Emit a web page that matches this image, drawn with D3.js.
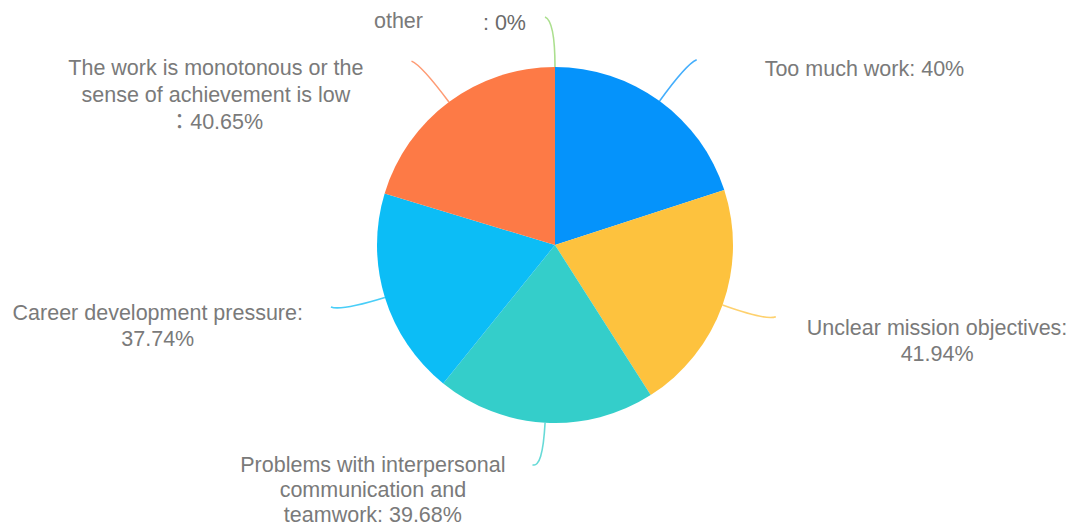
<!DOCTYPE html>
<html>
<head>
<meta charset="utf-8">
<script src="https://cdn.jsdelivr.net/npm/d3@7/dist/d3.min.js"></script>
<style>
  html, body { margin: 0; padding: 0; background: #ffffff; }
  svg { display: block; }
  text { font-family: "Liberation Sans", Arial, "Noto Sans CJK JP", "Noto Sans", sans-serif; }
</style>
</head>
<body>
<svg id="chart" width="1073" height="529"></svg>
<script>
// Reasons for work stress (share of respondents, %)
const categories = [
  "Too much work",
  "Unclear mission objectives",
  "Problems with interpersonal communication and teamwork",
  "Career development pressure",
  "The work is monotonous or the sense of achievement is low",
  "other"
];
const values = [40, 41.94, 39.68, 37.74, 40.65, 0];
const valueLabels = ["40%", "41.94%", "39.68%", "37.74%", "40.65%", "0%"];
// Label text broken into display lines
const labelLines = [
  ["Too much work: 40%"],
  ["Unclear mission objectives:", "41.94%"],
  ["Problems with interpersonal", "communication and", "teamwork: 39.68%"],
  ["Career development pressure:", "37.74%"],
  ["The work is monotonous or the", "sense of achievement is low", "\uff1a40.65%"],
  ["other", ": 0%"]
];
const colors = ["#0593fb", "#fdc23e", "#34ceca", "#0cbdf6", "#fd7a46", "#8fd468"];

const W = 1073, H = 529;
const cx = 555, cy = 245, R = 178;
const lineLen = 46, lineLen2 = 10;
// label gap from the line end, vertical offset of the first text line, line spacing
const labelGap = [68, 31, 27, 28, 48, 19];
const labelDy = [9, 11, 0, 6, 7, 6];
const labelLeading = [26.5, 26.5, 25.3, 26.5, 27, 26.5];
const fontSize = 21.5;

const svg = d3.select("#chart");
const g = svg.append("g").attr("transform", `translate(${cx},${cy})`);

const data = categories.map((c, i) => ({ name: c, value: values[i], i }));
const pie = d3.pie().value(d => d.value).sort(null);
const arcs = pie(data);
const arc = d3.arc().innerRadius(0).outerRadius(R);

g.selectAll("path.slice")
  .data(arcs)
  .join("path")
  .attr("class", "slice")
  .attr("d", arc)
  .attr("fill", d => colors[d.data.i]);

// Leader lines: radial segment then a short horizontal tail, smoothed
function leader(d) {
  const a = (d.startAngle + d.endAngle) / 2;
  const sx = Math.sin(a), sy = -Math.cos(a);
  const p1 = [sx * R, sy * R];
  const p2 = [sx * (R + lineLen), sy * (R + lineLen)];
  const side = sx > 0.001 ? 1 : -1;
  const p3 = [p2[0] + side * lineLen2, p2[1]];
  return { p1, p2, p3, side };
}

arcs.forEach(d => {
  const L = leader(d);
  const i = d.data.i;
  g.append("path")
    .attr("d", `M${L.p1[0]},${L.p1[1]} Q${L.p2[0]},${L.p2[1]} ${L.p3[0]},${L.p3[1] - 4}`)
    .attr("fill", "none")
    .attr("stroke", colors[i])
    .attr("stroke-opacity", 0.75)
    .attr("stroke-width", 1.6);

  const ex = L.p3[0], ey = L.p3[1] - 4;
  const lines = labelLines[i];

  if (i === 5) {
    // "other" label: name and value set apart on one row
    const t = g.append("text")
      .attr("x", ex - labelGap[i])
      .attr("y", ey + labelDy[i])
      .attr("text-anchor", "end")
      .attr("dominant-baseline", "central")
      .attr("font-size", fontSize)
      .attr("fill", "#7a7a7a");
    t.append("tspan").attr("dy", -2).text(lines[0]);
    t.append("tspan").attr("dx", 60).attr("dy", 2).attr("fill", "#6a6a6a").text(lines[1]);
    return;
  }

  const t = g.append("text")
    .attr("text-anchor", "middle")
    .attr("dominant-baseline", "central")
    .attr("font-size", fontSize)
    .attr("fill", "#7a7a7a");
  const spans = lines.map((s, k) =>
    t.append("tspan").attr("y", ey + labelDy[i] + k * labelLeading[i]).text(s));
  const maxW = d3.max(spans, s => s.node().getComputedTextLength());
  const bx = ex + L.side * (labelGap[i] + maxW / 2);
  spans.forEach(s => s.attr("x", bx));
});
</script>
</body>
</html>
